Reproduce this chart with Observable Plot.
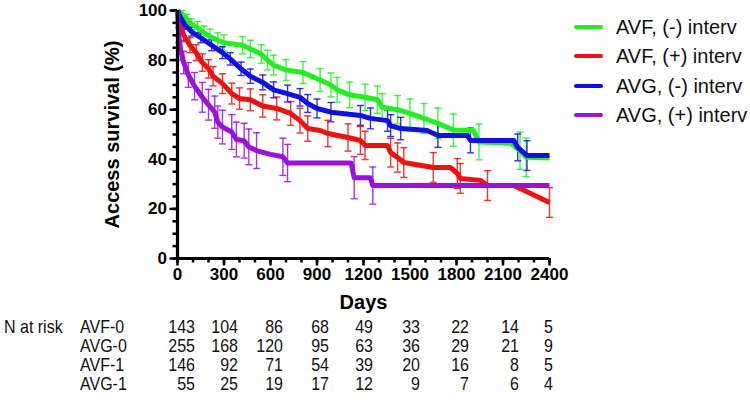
<!DOCTYPE html>
<html>
<head>
<meta charset="utf-8">
<script src="https://cdn.jsdelivr.net/npm/d3@7"></script>
<script src="https://cdn.jsdelivr.net/npm/@observablehq/plot@0.6"></script>
<style>
  html, body { margin: 0; padding: 0; background: #fff; }
  #wrap { position: relative; width: 750px; height: 407px; overflow: hidden; font-family: "Liberation Sans", Arial, sans-serif; }
  #chart { position: absolute; left: 0; top: 0; }
  .legend { position: absolute; left: 574px; top: 0; }
  .legend .row { position: absolute; left: 0; height: 24px; white-space: nowrap; display: flex; align-items: center; }
  .legend .sw { width: 29px; height: 4px; border-radius: 2px; margin-right: 13px; }
  .legend .tx { font-size: 20px; color: #111; }
  .risk span { position: absolute; font-size: 16px; color: #111; white-space: nowrap; line-height: 19px; transform: scaleY(1.12); }
</style>
</head>
<body>
<div id="wrap"><div id="chart"></div><div class="legend" id="legend"></div><div class="risk" id="risk"></div></div>
<script>
// ---- data: [day, survival %, error half-width] ----
const seriesNames = ["AVF, (-) interv", "AVF, (+) interv", "AVG, (-) interv", "AVG, (+) interv"];
const seriesColors = ["#22ee22", "#ee1111", "#1010e6", "#9a10dd"];

const avfNoInterv = [[0,100,0],[30,98.5,1.5],[60,96.5,2],[90,94.5,2.2],[130,93,2.5],[170,91,2.8],[210,89.5,3],[260,88,3],[300,87,3.2],[420,86,3.5],[470,84.5,3.5],[540,82.5,3.7],[580,80,4],[620,78,4],[700,76,4.2],[810,75,4.4],[920,72,4.6],[990,70,4.8],[1030,68,5],[1110,66,5.2],[1210,65,5.3],[1290,64,5.5],[1320,61,5.5],[1420,60,5.7],[1500,58.5,5.8],[1590,56.5,6],[1680,54.5,6.2],[1780,51.8,6.5],[1910,51.6,0],[1945,47,7.2],[2150,46.5,0],[2210,43.5,7.5],[2250,40.8,7.8],[2400,40.5,0]];
const avfInterv = [[0,100,0],[15,95,1.8],[40,90,2.5],[80,86,3],[120,83,3.2],[160,79,3.5],[200,76.5,3.7],[230,73.5,3.9],[290,70.5,4],[350,66.5,4.2],[400,64.5,4.3],[470,64,4.4],[550,61.5,4.5],[640,60.5,4.6],[730,58.5,4.8],[790,55.6,5],[840,52.4,5.1],[920,51.6,0],[970,50.4,5.3],[1100,48.8,5.5],[1180,47.6,5.6],[1210,45.6,5.7],[1355,45.6,0],[1375,42.7,5.8],[1420,40.7,5.9],[1460,38.7,6],[1650,36.7,6],[1760,36.7,0],[1805,34.3,6],[1825,32.3,6],[1955,31.5,0],[2000,29.4,6],[2170,29.4,0],[2400,22.6,6]];
const avgNoInterv = [[0,100,0],[20,97,1],[50,94,1.5],[90,91.5,1.8],[150,89,2],[220,86,2.2],[290,83,2.4],[340,80.5,2.5],[410,76.5,2.7],[470,73.5,2.9],[550,71,3],[620,68,3.2],[710,66.5,3.4],[790,65,3.5],[840,62.5,3.6],[900,60.5,3.8],[990,59,3.9],[1180,57.7,4],[1245,56.5,4.2],[1355,55.6,4.3],[1375,53.6,4.4],[1440,52.4,4.5],[1610,51.6,0],[1680,49.6,4.8],[1870,49.6,0],[1890,47.6,5],[2170,47.6,0],[2195,44.8,5.4],[2255,41.5,6],[2400,41.5,0]];
const avgInterv = [[0,100,0],[8,90,3],[20,84,4],[40,79,4.5],[70,74,5],[110,69.5,5.5],[160,65,6],[200,62,6.2],[240,59,6.5],[260,55,6.5],[290,53,6.8],[350,51,7],[380,48,7],[430,47.5,7],[460,45,7.2],[510,43.5,7.2],[600,42,0],[680,41,7.5],[710,38.5,7.5],[1120,38.5,0],[1140,32.6,8.5],[1245,32.6,0],[1260,29.4,7.5],[2400,29.4,0]];

const xMajorTicks = [0,300,600,900,1200,1500,1800,2100,2400];
const yMajorTicks = [0,20,40,60,80,100];

const riskGroups = ["AVF-0", "AVG-0", "AVF-1", "AVG-1"];
const riskAVF0 = [143,104,86,68,49,33,22,14,5];
const riskAVG0 = [255,168,120,95,63,36,29,21,9];
const riskAVF1 = [146,92,71,54,39,20,16,8,5];
const riskAVG1 = [55,25,19,17,12,9,7,6,4];

// ---- build tables ----
const allSeries = [avfNoInterv, avfInterv, avgNoInterv, avgInterv];
const pts = [];
allSeries.forEach((s, i) => s.forEach(([day, surv, err]) => pts.push({series: seriesNames[i], day, surv, err, lo: surv - err, hi: surv + err})));
const bars = pts.filter(d => d.err > 0);
const drawOrder = [0, 1, 2, 3];

const cap = { draw(ctx) { ctx.moveTo(-3.5, 0); ctx.lineTo(3.5, 0); } };

const marks = [
  Plot.axisY({ticks: d3.range(0, 101, 5), tickSize: 4.5, text: null, strokeWidth: 2.5, label: null}),
  Plot.axisY({ticks: yMajorTicks, tickSize: 7.5, tickPadding: 3, strokeWidth: 2.5, label: null, fontSize: 17, fontWeight: "bold", tickFormat: d3.format("d")}),
  Plot.axisX({ticks: d3.range(0, 2401, 100), tickSize: 4.5, text: null, strokeWidth: 2.5, label: null}),
  Plot.axisX({ticks: xMajorTicks, tickSize: 7.5, tickPadding: 2, strokeWidth: 2.5, label: null, fontSize: 17, fontWeight: "bold", tickFormat: d3.format("d")}),
];
for (const i of drawOrder) {
  const name = seriesNames[i];
  const b = bars.filter(d => d.series === name);
  marks.push(
    Plot.ruleX(b, {x: "day", y1: "lo", y2: "hi", stroke: seriesColors[i], strokeWidth: 1.4, strokeOpacity: 0.85}),
    Plot.dot(b, {x: "day", y: "lo", symbol: cap, fill: "none", stroke: seriesColors[i], strokeWidth: 1.4, strokeOpacity: 0.85}),
    Plot.dot(b, {x: "day", y: "hi", symbol: cap, fill: "none", stroke: seriesColors[i], strokeWidth: 1.4, strokeOpacity: 0.85}),
  );
}
for (const i of drawOrder) {
  const name = seriesNames[i];
  marks.push(Plot.line(pts.filter(d => d.series === name), {x: "day", y: "surv", stroke: seriesColors[i], strokeWidth: 5, strokeLinejoin: "round", strokeLinecap: "butt"}));
}
marks.push(
  Plot.ruleX([0], {stroke: "#000", strokeWidth: 3.2}),
  Plot.ruleY([0], {stroke: "#000", strokeWidth: 3.2}),
  Plot.text(["Days"], {frameAnchor: "bottom", dy: 50, fontSize: 20, fontWeight: "bold"}),
  Plot.text(["Access survival (%)"], {frameAnchor: "left", textAnchor: "middle", rotate: -90, dx: -65, fontSize: 20, fontWeight: "bold"})
);

const chart = Plot.plot({
  width: 750, height: 407,
  marginLeft: 177, marginRight: 201, marginTop: 10, marginBottom: 149,
  x: {domain: [0, 2400]},
  y: {domain: [0, 100]},
  style: {fontFamily: "'Liberation Sans', Arial, sans-serif", color: "#000", background: "transparent", overflow: "visible"},
  marks
});
document.getElementById("chart").appendChild(chart);

// ---- legend ----
const legend = document.getElementById("legend");
const legendRowY = [15, 44, 74, 103];
seriesNames.forEach((n, i) => {
  const r = document.createElement("div");
  r.className = "row";
  r.style.top = legendRowY[i] + "px";
  r.innerHTML = `<div class="sw" style="background:${seriesColors[i]}"></div><div class="tx">${n}</div>`;
  legend.appendChild(r);
});

// ---- N at risk table ----
const risk = document.getElementById("risk");
const rowTop = [317, 336, 355, 374];
const colRight = [195, 238, 283, 329, 373, 420, 469, 519, 553];
const riskRows = [riskAVF0, riskAVG0, riskAVF1, riskAVG1];
function addSpan(text, left, top, right) {
  const s = document.createElement("span");
  s.textContent = text;
  s.style.top = top + "px";
  if (right != null) s.style.right = (750 - right) + "px"; else s.style.left = left + "px";
  risk.appendChild(s);
}
addSpan("N at risk", 4, rowTop[0]);
riskRows.forEach((vals, r) => {
  addSpan(riskGroups[r], 80, rowTop[r]);
  vals.forEach((v, c) => addSpan(String(v), null, rowTop[r], colRight[c]));
});
</script>
</body>
</html>
